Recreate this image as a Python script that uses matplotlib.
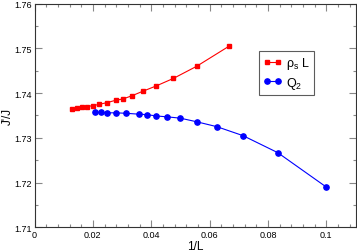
import matplotlib
matplotlib.use("Agg")
import matplotlib.pyplot as plt
from matplotlib.ticker import MultipleLocator
from matplotlib.lines import Line2D
import numpy as np

plt.rcParams['font.family'] = ['Liberation Sans', 'DejaVu Sans']
plt.rcParams['mathtext.fontset'] = 'custom'
plt.rcParams['mathtext.rm'] = 'Liberation Sans'

# rho_s L data
L_rho = [78, 69, 62, 56, 50, 45, 40, 36, 33, 30, 27, 24, 21, 18, 15]
rho_vals = [1.7364, 1.7366, 1.7368, 1.7370, 1.7372, 1.7375, 1.7379, 1.7384, 1.7387,
            1.7394, 1.7404, 1.7416, 1.7433, 1.7460, 1.7505]
rho_err = [0.0001] * len(L_rho)

# Q2 data
L_q = [48, 44, 40, 36, 32, 28, 26, 24, 22, 20, 18, 16, 14, 12, 10]
q_vals = [1.7357, 1.7357, 1.7356, 1.7356, 1.7355, 1.7353, 1.7352, 1.7349, 1.7347,
          1.7344, 1.7336, 1.7325, 1.7305, 1.7267, 1.7190]
q_err = [0.0001] * len(L_q)

x_rho = 1.0 / np.array(L_rho)
x_q = 1.0 / np.array(L_q)

fig = plt.figure(figsize=(3.57, 2.53), dpi=100)
ax = fig.add_axes([34.5 / 357, 1 - 228.3 / 253, 321 / 357, 223.6 / 253])

red = '#ff0000'
blue = '#0000ff'
ax.errorbar(x_rho, rho_vals, yerr=rho_err, color=red, marker='s', markersize=3.5,
            linewidth=0.8, capsize=1.5, elinewidth=0.8)
ax.errorbar(x_q, q_vals, yerr=q_err, color=blue, marker='o', markersize=3.8,
            linewidth=0.8, capsize=1.5, elinewidth=0.8)

ax.set_xlim(0, 0.11)
ax.set_ylim(1.71, 1.76)
ax.xaxis.set_minor_locator(MultipleLocator(0.004))
ax.yaxis.set_minor_locator(MultipleLocator(0.005))
ax.set_xticks([0, 0.02, 0.04, 0.06, 0.08, 0.1])
ax.set_xticklabels(['0', '0.02', '0.04', '0.06', '0.08', '0.1'])
ax.set_yticks([1.71, 1.72, 1.73, 1.74, 1.75, 1.76])
ax.set_yticklabels(['1.71', '1.72', '1.73', '1.74', '1.75', '1.76'])

ax.tick_params(which='both', direction='in', top=True, right=True, color='#888888',
               labelsize=6.5, pad=2)
ax.tick_params(which='major', length=5, width=0.8)
ax.tick_params(which='minor', length=2.5, width=0.8)
for s in ax.spines.values():
    s.set_linewidth(0.8)
    s.set_color('#333333')

ax.set_xlabel('1/L', fontsize=8.5, labelpad=1)
ax.set_ylabel("J'/J", fontsize=8.5)
ax.yaxis.set_label_coords(-(34.5 - 14) / 321, 0.5)

handles = [
    Line2D([], [], color=red, marker='s', markersize=3.5, linewidth=0.8),
    Line2D([], [], color=blue, marker='o', markersize=3.8, linewidth=0.8),
]
labels = ['ρ$_\\mathrm{s}$ L', 'Q$_\\mathrm{2}$']
leg = ax.legend(handles, labels, loc='upper left', bbox_to_anchor=(0.70, 0.787), numpoints=2,
                fontsize=9, frameon=True, fancybox=False, edgecolor='#333333',
                borderpad=0.3, handlelength=1.5, handletextpad=0.35, labelspacing=0.3,
                borderaxespad=0)
leg.get_frame().set_linewidth(0.8)

fig.savefig('out.png', dpi=100)
